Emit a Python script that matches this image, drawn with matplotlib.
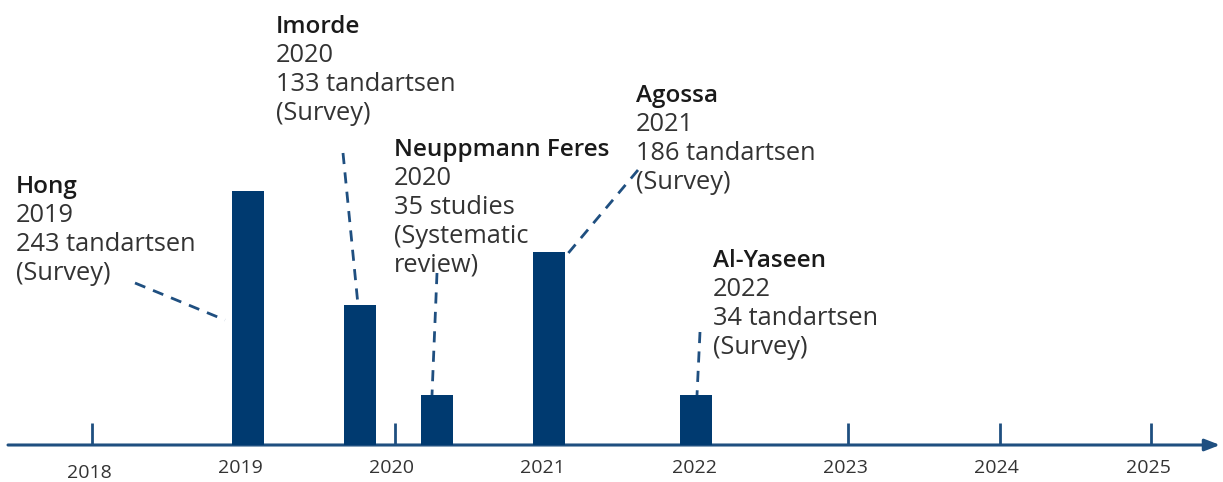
import matplotlib
matplotlib.use("Agg")
import matplotlib.pyplot as plt

# ---- data ----
authors = ["Hong", "Imorde", "Neuppmann Feres", "Agossa", "Al-Yaseen"]
pub_years = ["2019", "2020", "2020", "2021", "2022"]
sizes = ["243 tandartsen", "133 tandartsen", "35 studies", "186 tandartsen", "34 tandartsen"]
designs = [["(Survey)"], ["(Survey)"], ["(Systematic", "review)"], ["(Survey)"], ["(Survey)"]]
bar_positions = [2019.03, 2019.77, 2020.28, 2021.02, 2021.99]   # position on timeline
bar_heights = [243, 134, 48, 185, 48]
tick_years = [2018, 2019, 2020, 2021, 2022, 2023, 2024, 2025]

# ---- layout helpers (pixel -> data) ----
W, H = 1223, 482
X0PX, YEARPX = 92, 151.3        # 2018 tick x pixel, pixels per year
Y0PX, UNITPX = 445, 1.045       # axis y pixel (from top), pixels per unit

def px2x(px):
    return 2018 + (px - X0PX) / YEARPX

def px2y(py):
    return (Y0PX - py) / UNITPX

NAVY = "#003a70"
LINE = "#1f4f80"
TXT = "#333333"
FONT = ["Open Sans", "DejaVu Sans"]

fig = plt.figure(figsize=(W / 100, H / 100), dpi=100)
ax = fig.add_axes([0, 0, 1, 1])
ax.set_xlim(px2x(0), px2x(W))
ax.set_ylim(px2y(H), px2y(0))
ax.axis("off")

# axis arrow
ax.annotate("", xy=(px2x(1220), 0), xytext=(px2x(8), 0),
            arrowprops=dict(arrowstyle="-|>,head_length=0.9,head_width=0.35",
                            color=LINE, lw=2.2, shrinkA=0, shrinkB=0))

# ticks and tick labels
label_dy = {2018: 5}
for yr in tick_years:
    ax.plot([yr, yr], [0, 22 / UNITPX], color=LINE, lw=2, solid_capstyle="butt", zorder=1)
    ax.text(yr - 3 / YEARPX, px2y(468 + label_dy.get(yr, 0)), str(yr), ha="center", va="center",
            fontsize=14, color=TXT, family=FONT)

# bars
ax.bar(bar_positions, bar_heights, width=32 / YEARPX, color=NAVY, zorder=3)

# annotation text blocks (left x px, first-line center y px)
text_pos = [(16, 187), (276, 27), (394, 150), (636, 96), (713, 261)]
LH = 28.7
for i, (tx, ty) in enumerate(text_pos):
    ax.text(px2x(tx), px2y(ty), authors[i], ha="left", va="center",
            fontsize=17.5, fontweight="semibold", color="#1a1a1a", family=FONT)
    lines = [pub_years[i], sizes[i]] + designs[i]
    for k, ln in enumerate(lines, start=1):
        ax.text(px2x(tx), px2y(ty + LH * k), ln, ha="left", va="center",
                fontsize=18.3, color=TXT, family=FONT)

# dashed leader lines (start px -> end px)
leaders = [((135, 283), (225, 320)),
           ((343, 153), (358, 305)),
           ((437, 273), (432, 395)),
           ((638, 170), (565, 257)),
           ((700, 332), (697, 395))]
for (x1, y1), (x2, y2) in leaders:
    ax.plot([px2x(x1), px2x(x2)], [px2y(y1), px2y(y2)], color=LINE, lw=2,
            linestyle=(0, (4, 3)), zorder=2)

fig.savefig("out.png", dpi=100)
